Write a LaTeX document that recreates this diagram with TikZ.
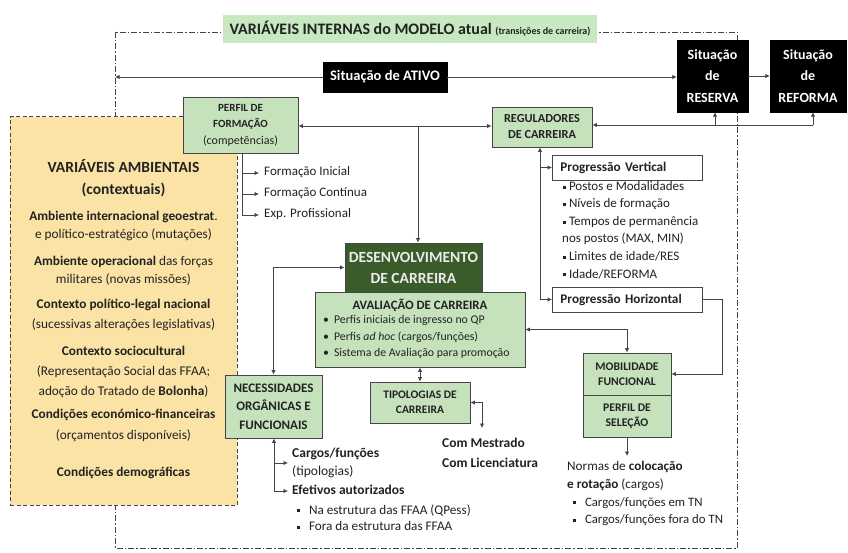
\documentclass[tikz,border=0pt]{standalone}
\usepackage{fontspec}
\setmainfont{Carlito}
\usetikzlibrary{arrows.meta}

\definecolor{lgreen}{HTML}{C5E2BC}
\definecolor{tgreen}{HTML}{C8E8C2}
\definecolor{dgreen}{HTML}{3A5C2A}
\definecolor{lyellow}{HTML}{FBE3A6}
\definecolor{edge}{HTML}{454545}
\definecolor{ink}{HTML}{222222}

\newcommand{\sqb}{\raisebox{0.3ex}{\rule{2.8pt}{2.8pt}}}
\newcommand{\fs}[2]{\fontsize{#1}{#2}\selectfont}

\begin{document}
\begin{tikzpicture}[x=1pt,y=-1pt,
  gbox/.style={draw=edge, fill=lgreen, line width=0.9pt, align=center, inner sep=0pt, text=ink},
  blackbox/.style={fill=black, draw=black, text=white, align=center, inner sep=0pt},
  wbox/.style={draw=edge, fill=white, line width=0.9pt, inner sep=0pt, text=ink, font=\fs{13.2}{15}\bfseries},
  con/.style={draw=edge, line width=0.8pt},
  arr/.style={con, -{Latex[length=4.5pt,width=4.5pt]}},
  darr/.style={con, {Latex[length=4.5pt,width=4.5pt]}-{Latex[length=4.5pt,width=4.5pt]}},
  lbl/.style={inner sep=0pt, anchor=west, text=ink, text height=0.7em, text depth=0.2em},
  ytxt/.style={inner sep=0pt, align=center, text=ink},
]
\useasboundingbox (0,0) rectangle (848,553);
\fill[white] (0,0) rectangle (848,553);

% outer frame of the internal variables
\draw[edge, line width=0.7pt, dash pattern=on 6pt off 2pt on 1.5pt off 2pt] (115,32) rectangle (737,548);

% environmental variables panel
\node[draw=edge, line width=1pt, dash pattern=on 4pt off 2.5pt, fill=lyellow,
      minimum width=227pt, minimum height=388pt, inner sep=0pt] (amb) at (123.5,311) {};
\node[ytxt, font=\fs{15.5}{22}\bfseries] (ya) at (123.5,178) {VARIÁVEIS AMBIENTAIS\\(contextuais)};
\node[ytxt, font=\fs{13.3}{18.5}\selectfont] (yb) at (123.5,226) {\textbf{Ambiente internacional geoestrat}.\\e político-estratégico (mutações)};
\node[ytxt, font=\fs{13.3}{18.5}\selectfont] (yc) at (123.5,271) {\textbf{Ambiente operacional} das forças\\militares (novas missões)};
\node[ytxt, font=\fs{13.3}{20}\selectfont] (yd) at (123.5,315) {\textbf{Contexto político-legal nacional}\\(sucessivas alterações legislativas)};
\node[ytxt, font=\fs{13.3}{20}\selectfont] (ye) at (123.5,372) {\textbf{Contexto sociocultural}\\(Representação Social das FFAA;\\adoção do Tratado de \textbf{Bolonha})};
\node[ytxt, font=\fs{13.3}{21}\selectfont] (yf) at (123.5,425.5) {\textbf{Condições económico-financeiras}\\(orçamentos disponíveis)};
\node[ytxt, font=\fs{13.3}{15}\bfseries] (yg) at (123.5,473) {Condições demográficas};

% title
\node[fill=tgreen, minimum width=374pt, minimum height=28pt, inner sep=0pt, text=ink] (title) at (410,29)
  {\fs{16}{18}\bfseries VARIÁVEIS INTERNAS do MODELO atual \fs{10}{11}(transições de carreira)};

% career situations
\node[blackbox, minimum width=124pt, minimum height=30pt, font=\fs{14.5}{16}\bfseries] (ativo) at (385,77) {Situação de ATIVO};
\node[blackbox, minimum width=71pt, minimum height=72pt, font=\fs{14}{21.5}\bfseries] (reserva) at (712.5,76) {Situação\\de\\RESERVA};
\node[blackbox, minimum width=76pt, minimum height=72pt, font=\fs{14}{21.5}\bfseries] (reforma) at (808,76) {Situação\\de\\REFORMA};

\coordinate (frameL) at (115,77);
\draw[arr] (ativo.west) -- (frameL);
\draw[arr] (ativo.east) -- (ativo.east -| reserva.west);
\draw[arr] (reserva.east) -- (reforma.west);

% training profile and career regulators
\node[gbox, minimum width=115pt, minimum height=56pt, font=\fs{11}{16.5}\bfseries] (perfil) at (240.5,125)
  {PERFIL DE\\FORMAÇÃO\\{\mdseries\fs{12}{16.5}(competências)}};
\node[gbox, minimum width=100pt, minimum height=40pt, font=\fs{12.3}{16}\bfseries] (reg) at (542,127) {REGULADORES\\DE CARREIRA};

% career development and evaluation
\node[fill=dgreen, draw=edge, line width=0.9pt, minimum width=137pt, minimum height=49pt, text=white!92!black,
      font=\fs{15.5}{21}\bfseries, align=center, inner sep=0pt] (desenv) at (413.5,267.5) {DESENVOLVIMENTO\\DE CARREIRA};
\node[gbox, minimum width=210pt, minimum height=75pt] (aval) at (420,329.5) {};
\node[inner sep=0pt, text=ink, font=\fs{12.8}{14}\bfseries] (avalT) at (420,305) {AVALIAÇÃO DE CARREIRA};
\node[lbl, font=\fs{11.8}{13}\selectfont] (av1) at (323,321) {•\hspace{5pt}Perfis iniciais de ingresso no QP};
\node[lbl, font=\fs{11.8}{13}\selectfont] (av2) at (323,337.5) {•\hspace{5pt}Perfis \textit{ad hoc} (cargos/funções)};
\node[lbl, font=\fs{11.8}{13}\selectfont] (av3) at (323,354) {•\hspace{5pt}Sistema de Avaliação para promoção};

% bus between training profile and regulators
\coordinate (busA) at (418,126);
\draw[darr] (perfil.east |- busA) -- (reg.west |- busA);
\draw[arr] (busA) -- (busA |- desenv.north);

% regulators to reserve and retirement
\coordinate (busR) at (813,125);
\coordinate (busM) at (715,125);
\draw[arr] (busR) -- (reg.east |- busR);
\draw[arr] (busM) -- (busM |- reserva.south);
\draw[arr] (busR) -- (busR |- reforma.south);

% training profile branches
\node[lbl, font=\fs{13}{15}\selectfont] (fi) at (264,173) {Formação Inicial};
\node[lbl, font=\fs{13}{15}\selectfont] (fc) at (264,194) {Formação Contínua};
\node[lbl, font=\fs{13}{15}\selectfont] (ep) at (264,215) {Exp. Profissional};
\coordinate (pfb) at (242,215);
\draw[con] (pfb |- perfil.south) -- (pfb);
\draw[arr] (pfb |- fi.west) -- ([xshift=-5pt]fi.west);
\draw[arr] (pfb |- fc.west) -- ([xshift=-5pt]fc.west);
\draw[arr] (pfb) -- ([xshift=-5pt]ep.west);

% vertical and horizontal progression
\node[wbox, minimum width=150pt, minimum height=25pt, text width=134pt, inner xsep=8pt, align=left, anchor=west] (pv) at (552,167.5) {Progressão Vertical};
\node[wbox, minimum width=150pt, minimum height=25pt, text width=134pt, inner xsep=8pt, align=left, anchor=west] (ph) at (552,299.5) {Progressão Horizontal};
\node[lbl, font=\fs{13}{15}\selectfont] (pv1) at (563,188) {\sqb\hspace{3pt}Postos e Modalidades};
\node[lbl, font=\fs{13}{15}\selectfont] (pv2) at (563,205.5) {\sqb\hspace{3pt}Níveis de formação};
\node[lbl, font=\fs{13}{15}\selectfont] (pv3) at (563,223) {\sqb\hspace{3pt}Tempos de permanência};
\node[lbl, font=\fs{13}{15}\selectfont] (pv4) at (562,240.5) {nos postos (MAX, MIN)};
\node[lbl, font=\fs{13}{15}\selectfont] (pv5) at (563,258) {\sqb\hspace{3pt}Limites de idade/RES};
\node[lbl, font=\fs{13}{15}\selectfont] (pv6) at (563,275.5) {\sqb\hspace{3pt}Idade/REFORMA};

\coordinate (rgb) at (540,299.5);
\draw[arr] (rgb) -- (rgb |- reg.south);
\draw[arr] (rgb |- pv.west) -- (pv.west);
\draw[arr] (rgb) -- (ph.west);

% functional mobility and selection profile
\node[gbox, minimum width=88pt, minimum height=42pt, font=\fs{11.7}{15.5}\bfseries] (mob) at (627,374) {MOBILIDADE\\FUNCIONAL};
\node[gbox, minimum width=88pt, minimum height=42pt, font=\fs{11.7}{15.5}\bfseries] (sel) at (627,416) {PERFIL DE\\SELEÇÃO};
\draw[arr] (ph.east) -- ++(19,0) |- (mob.east);
\draw[darr] (aval.east) -| (mob.north);

\coordinate (selEnd) at (627,456);
\draw[arr] (sel.south) -- (selEnd);
\node[lbl, font=\fs{13.2}{15}\selectfont] (nr1) at (567,468) {Normas de \textbf{colocação}};
\node[lbl, font=\fs{13.2}{15}\selectfont] (nr2) at (567,486) {\textbf{e rotação} (cargos)};
\node[lbl, font=\fs{12.8}{15}\selectfont] (nr3) at (573,503.5) {\sqb\hspace{9pt}Cargos/funções em TN};
\node[lbl, font=\fs{12.8}{15}\selectfont] (nr4) at (573,521) {\sqb\hspace{9pt}Cargos/funções fora do TN};

% career typologies
\node[gbox, minimum width=100pt, minimum height=41pt, font=\fs{11.5}{15.5}\bfseries] (tipo) at (420,402.5) {TIPOLOGIAS DE\\CARREIRA};
\draw[darr] (aval.south) -- (tipo.north);
\coordinate (tpEnd) at (482,428);
\draw[darr] (tipo.east) -| (tpEnd);
\node[lbl, font=\fs{13.5}{15}\bfseries] (mest) at (442,445) {Com Mestrado};
\node[lbl, font=\fs{13.5}{15}\bfseries] (lic) at (442,465) {Com Licenciatura};

% organic and functional needs
\node[gbox, minimum width=97pt, minimum height=63pt, font=\fs{13}{18.5}\bfseries] (necess) at (273.5,406.5) {NECESSIDADES\\ORGÂNICAS E\\FUNCIONAIS};
\draw[darr] (desenv.west) -| (necess.north);

\node[lbl, font=\fs{13.5}{15}\bfseries] (cf) at (292,455) {Cargos/funções};
\node[lbl, font=\fs{13.5}{15}\selectfont] (tp) at (292,473) {(tipologias)};
\node[lbl, font=\fs{13.5}{15}\bfseries] (ea) at (292,492) {Efetivos autorizados};
\node[lbl, font=\fs{13.2}{15}\selectfont] (ea1) at (297,511.5) {\sqb\hspace{9pt}Na estrutura das FFAA (QPess)};
\node[lbl, font=\fs{13.2}{15}\selectfont] (ea2) at (297,528) {\sqb\hspace{9pt}Fora da estrutura das FFAA};
\coordinate (nbMid) at (274,463);
\coordinate (nb) at (274,491);
\draw[arr] (nb) -- (nb |- necess.south);
\draw[arr] (nbMid) -- ([xshift=-4pt]cf.west |- nbMid);
\draw[arr] (nb) -- ([xshift=-4pt]ea.west |- nb);

\end{tikzpicture}
\end{document}
